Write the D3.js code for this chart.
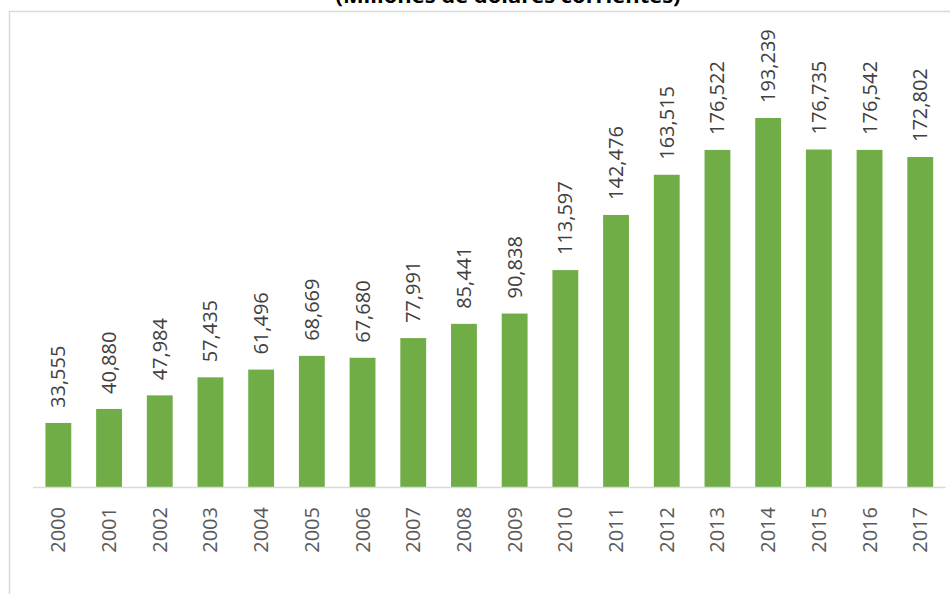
<!DOCTYPE html>
<meta charset="utf-8">
<script src="https://d3js.org/d3.v7.min.js"></script>
<style>
  body { margin: 0; background: #fff; }
</style>
<svg id="chart" width="950" height="594"></svg>
<script>
    // data
    var years = ["2000","2001","2002","2003","2004","2005","2006","2007","2008",
                 "2009","2010","2011","2012","2013","2014","2015","2016","2017"];
    var values = [33555, 40880, 47984, 57435, 61496, 68669, 67680, 77991, 85441,
                  90838, 113597, 142476, 163515, 176522, 193239, 176735, 176542, 172802];
    var title = "(Millones de dólares corrientes)";

    var svg = d3.select("#chart");
    var font = "'Open Sans', 'Liberation Sans', Arial, sans-serif";

    // chart frame (runs off the right and bottom)
    svg.append("rect")
        .attr("x", 9.5).attr("y", 11.5)
        .attr("width", 1000).attr("height", 700)
        .attr("fill", "none")
        .attr("stroke", "#d9d9d9")
        .attr("stroke-width", 1.5);

    // title, cut at the top like the original
    svg.append("text")
        .attr("x", 508).attr("y", 2.5)
        .attr("text-anchor", "middle")
        .attr("textLength", 345)
        .attr("lengthAdjust", "spacingAndGlyphs")
        .style("font-family", font)
        .style("font-size", "20px")
        .style("font-weight", "bold")
        .style("fill", "#000")
        .text(title);

    var baseY = 487;
    var x = d3.scaleBand()
        .domain(years)
        .range([33, 945.6])
        .paddingInner(0.49)
        .paddingOuter(0.245);

    var y = d3.scaleLinear()
        .domain([0, 193239])
        .range([baseY, 118]);

    var data = years.map(function(d, i){ return {year: d, value: values[i]}; });

    svg.append("g")
        .selectAll("rect")
        .data(data)
        .enter()
        .append("rect")
          .attr("x", function(d){ return x(d.year); })
          .attr("y", function(d){ return y(d.value); })
          .attr("width", x.bandwidth())
          .attr("height", function(d){ return baseY - y(d.value); })
          .attr("fill", "#70ad47");

    // x axis line
    svg.append("line")
        .attr("x1", 33).attr("x2", 945.6)
        .attr("y1", baseY + 0.5).attr("y2", baseY + 0.5)
        .attr("stroke", "#d9d9d9")
        .attr("stroke-width", 1.5);

    var fmt = d3.format(",");

    // value labels, rotated
    svg.append("g")
        .selectAll("text")
        .data(data)
        .enter()
        .append("text")
          .attr("transform", function(d){
              return "translate(" + (x(d.year) + x.bandwidth()/2 + 7) + "," + (y(d.value) - 15) + ") rotate(-90)";
          })
          .attr("text-anchor", "start")
          .style("font-family", font)
          .style("font-size", "20px")
          .style("fill", "#404040")
          .text(function(d){ return fmt(d.value); });

    // year labels, rotated
    svg.append("g")
        .selectAll("text")
        .data(data)
        .enter()
        .append("text")
          .attr("transform", function(d){
              return "translate(" + (x(d.year) + x.bandwidth()/2 + 7) + "," + (baseY + 20) + ") rotate(-90)";
          })
          .attr("text-anchor", "end")
          .style("font-family", font)
          .style("font-size", "20px")
          .style("fill", "#595959")
          .text(function(d){ return d.year; });
</script>
